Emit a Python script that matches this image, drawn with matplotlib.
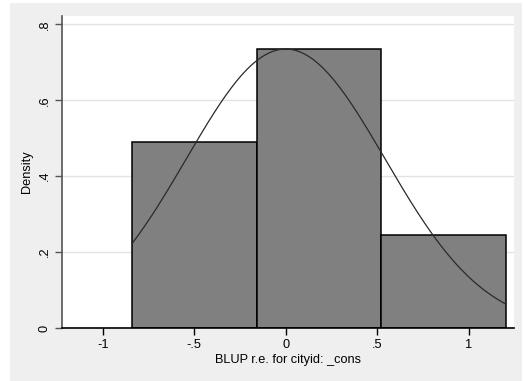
import numpy as np
import matplotlib
matplotlib.use("Agg")
import matplotlib.pyplot as plt
from matplotlib.patches import Rectangle

# histograma de los BLUP (densidad) con curva normal
bin_edges = [-0.838, -0.159, 0.521, 1.202]
densidades = [0.490, 0.736, 0.2455]
media = 0.0
desv = 0.5428

x_ticks = [-1, -0.5, 0, 0.5, 1]
x_labels = ['-1', '-.5', '0', '.5', '1']
y_ticks = [0, 0.2, 0.4, 0.6, 0.8]
y_labels = ['0', '.2', '.4', '.6', '.8']

plt.rcParams['font.family'] = ['Liberation Sans', 'DejaVu Sans']

fig = plt.figure(figsize=(5.23, 3.81), dpi=100)
fig.patch.set_facecolor('white')
# fondo gris tipo Stata
fondo = Rectangle((10 / 523, 0), 512 / 523, 378 / 381, transform=fig.transFigure,
                  facecolor='#efefef', edgecolor='none', zorder=-10)
fig.add_artist(fondo)

ax = fig.add_axes([62 / 523, 53 / 381, 452 / 523, 312 / 381])
ax.set_zorder(5)
ax.set_facecolor('white')

anchos = np.diff(bin_edges)
ax.bar(bin_edges[:-1], densidades, width=anchos, align='edge', color='#808080',
       edgecolor='black', linewidth=1.1, zorder=2)

xs = np.linspace(bin_edges[0], bin_edges[-1], 300)
ys = np.exp(-(xs - media) ** 2 / (2 * desv ** 2)) / (desv * np.sqrt(2 * np.pi))
ax.plot(xs, ys, color='#2a2a2a', linewidth=0.9, zorder=3)

ax.set_xlim(-1.222, 1.2475)
ax.set_ylim(0, 0.822)
ax.set_xticks(x_ticks)
ax.set_xticklabels(x_labels)
ax.set_yticks(y_ticks)
ax.set_yticklabels(y_labels, rotation=90, va='center')
ax.tick_params(axis='both', labelsize=9.2, length=5, width=1, colors='black', pad=3)
ax.tick_params(axis='y', color='#555555')
ax.grid(axis='y', color='#e3e3e3', linewidth=1, zorder=0)
ax.set_axisbelow(True)

for lado in ['top', 'right']:
    ax.spines[lado].set_visible(False)
ax.spines['left'].set_color('#555555')
ax.spines['left'].set_linewidth(1.2)
ax.spines['bottom'].set_color('black')
ax.spines['bottom'].set_linewidth(1.2)

ax.set_xlabel('BLUP r.e. for cityid: _cons', fontsize=9.2, labelpad=2)
ax.set_ylabel('Density', fontsize=9.2, labelpad=4)

fig.savefig('out.png', dpi=100, facecolor=fig.get_facecolor())
